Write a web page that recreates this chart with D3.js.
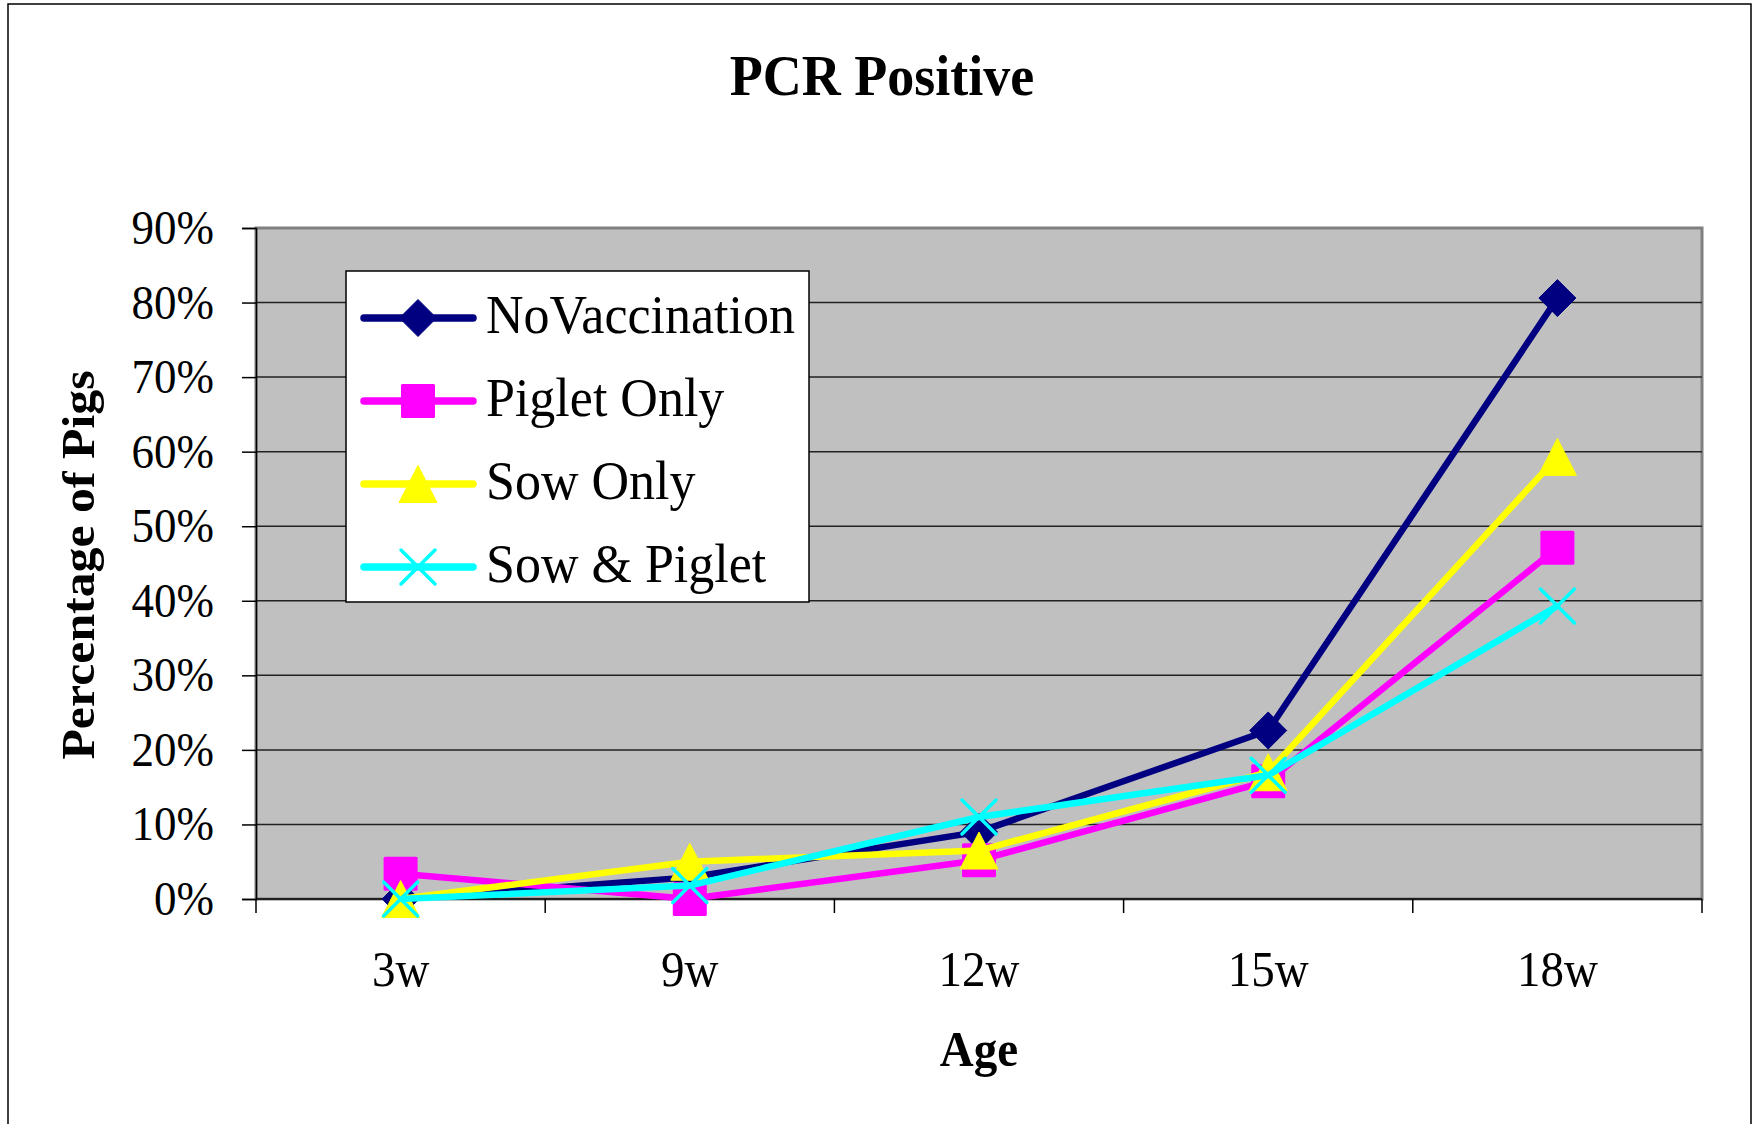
<!DOCTYPE html>
<html>
<head>
<meta charset="utf-8">
<script src="https://cdn.jsdelivr.net/npm/d3@7"></script>
<style>
	body { margin: 0; background: #fff; }
	svg { display: block; }
	text { font-family: "Liberation Serif", "Times New Roman", serif; fill: #000; }
</style>
</head>
<body>
<svg></svg>
<script>

// chart values
var ages = ['3w', '9w', '12w', '15w', '18w'];
var noVaccination = [0, 0.029, 0.090, 0.226, 0.806];
var pigletOnly = [0.034, 0, 0.052, 0.158, 0.471];
var sowOnly = [0, 0.050, 0.065, 0.170, 0.593];
var sowAndPiglet = [0, 0.018, 0.110, 0.166, 0.393];
var yTicks = [0, 0.1, 0.2, 0.3, 0.4, 0.5, 0.6, 0.7, 0.8, 0.9];

var series = [
	{name: 'NoVaccination', values: noVaccination, color: '#000080', marker: 'diamond'},
	{name: 'Piglet Only', values: pigletOnly, color: '#FF00FF', marker: 'square'},
	{name: 'Sow Only', values: sowOnly, color: '#FFFF00', marker: 'triangle'},
	{name: 'Sow & Piglet', values: sowAndPiglet, color: '#00FFFF', marker: 'x'}
];

// some layout settings
var CONF = {
	width: 1757,
	height: 1124,
	left: 256,
	right: 1702,
	top: 228,
	bottom: 899,
	stretch: 1.06
};

// draw one marker at the origin of a group
function drawMarker(g, kind, color) {
	if(kind == 'diamond') {
		g.append('path').attr('d', 'M0,-18.5L18.5,0L0,18.5L-18.5,0Z')
			.style('fill', color).style('stroke', color).style('stroke-width', 1);
	} else if(kind == 'square') {
		g.append('rect').attr('x', -17).attr('y', -17)
			.attr('width', 34).attr('height', 34).attr('rx', 1.5)
			.style('fill', color);
	} else if(kind == 'triangle') {
		g.append('path').attr('d', 'M0,-18.5L19,18.5L-19,18.5Z')
			.style('fill', color).style('stroke', color).style('stroke-width', 1)
			.style('stroke-linejoin', 'round');
	} else {
		g.append('path').attr('d', 'M-17,-17L17,17M17,-17L-17,17')
			.style('stroke', color).style('stroke-width', 3.5)
			.style('stroke-linecap', 'round');
	}
}

// text with the slight vertical stretch of the original
function label(parent, x, y, str, size, opts) {
	opts = opts || {};
	var tr = 'translate(' + x + ',' + y + ') scale(1,' + CONF.stretch + ')';
	if(opts.rotate) { tr += ' rotate(' + opts.rotate + ')'; }
	return parent.append('text')
		.attr('transform', tr)
		.attr('text-anchor', opts.anchor || 'middle')
		.style('font-size', size + 'px')
		.style('font-weight', opts.bold ? 'bold' : 'normal')
		.text(str);
}

function drawChart() {
	var svg = d3.select('svg')
		.attr('width', CONF.width)
		.attr('height', CONF.height);

	// chart area border
	svg.append('rect')
		.attr('x', 8).attr('y', 4)
		.attr('width', 1743).attr('height', 1140)
		.style('fill', '#fff')
		.style('stroke', '#000')
		.style('stroke-width', 1.5);

	var x = d3.scaleBand().domain(ages).range([CONF.left, CONF.right]);
	var y = d3.scaleLinear().domain([0, 0.9]).range([CONF.bottom, CONF.top]);

	// plot area
	svg.append('rect')
		.attr('x', CONF.left).attr('y', CONF.top)
		.attr('width', CONF.right - CONF.left)
		.attr('height', CONF.bottom - CONF.top)
		.style('fill', '#C0C0C0')
		.style('stroke', '#808080')
		.style('stroke-width', 3);

	// gridlines
	svg.append('g').selectAll('line')
		.data(yTicks.filter(function(d) { return d > 0 && d < 0.9; }))
		.enter()
		.append('line')
			.attr('x1', CONF.left).attr('x2', CONF.right)
			.attr('y1', function(d) { return y(d); })
			.attr('y2', function(d) { return y(d); })
			.style('stroke', '#222')
			.style('stroke-width', 1.5);

	// y axis
	var yAxis = svg.append('g')
		.attr('transform', 'translate(' + CONF.left + ',0)')
		.call(d3.axisLeft(y).tickValues(yTicks).tickSize(14).tickFormat(''));
	yAxis.select('.domain').style('stroke', '#000').style('stroke-width', 1.5);
	yAxis.selectAll('.tick line').style('stroke', '#000').style('stroke-width', 1.5);

	yTicks.forEach(function(d) {
		label(svg, 214, y(d) + 16, d3.format('.0%')(d), 45, {anchor: 'end'});
	});

	// x axis, ticks sit between the categories
	var xEdges = ages.map(function(d) { return x(d); }).concat([CONF.right]);
	var xAxis = svg.append('g')
		.attr('transform', 'translate(0,' + CONF.bottom + ')');
	xAxis.append('line')
		.attr('x1', CONF.left).attr('x2', CONF.right)
		.style('stroke', '#000').style('stroke-width', 1.5);
	xAxis.selectAll('line.tick')
		.data(xEdges)
		.enter()
		.append('line')
			.attr('class', 'tick')
			.attr('x1', function(d) { return d; })
			.attr('x2', function(d) { return d; })
			.attr('y1', 0).attr('y2', 14)
			.style('stroke', '#000').style('stroke-width', 1.5);

	ages.forEach(function(d) {
		label(svg, x(d) + x.bandwidth() / 2, 986, d, 47);
	});

	// titles
	label(svg, 882, 95, 'PCR Positive', 54, {bold: true});
	label(svg, 979, 1066, 'Age', 47, {bold: true});
	label(svg, 94, 565, 'Percentage of Pigs', 47, {bold: true, rotate: -90});

	// the series: line then markers, one after another
	var line = d3.line()
		.x(function(d, i) { return x(ages[i]) + x.bandwidth() / 2; })
		.y(function(d) { return y(d); });

	series.forEach(function(s) {
		var g = svg.append('g').attr('class', 'series');
		g.append('path')
			.attr('d', line(s.values))
			.style('fill', 'none')
			.style('stroke', s.color)
			.style('stroke-width', 6.5)
			.style('stroke-linejoin', 'round');

		g.selectAll('g.marker')
			.data(s.values)
			.enter()
			.append('g')
				.attr('class', 'marker')
				.attr('transform', function(d, i) {
					return 'translate(' + (x(ages[i]) + x.bandwidth() / 2) + ',' + y(d) + ')';
				})
				.each(function() { drawMarker(d3.select(this), s.marker, s.color); });
	});

	// legend
	var legend = svg.append('g');
	legend.append('rect')
		.attr('x', 346).attr('y', 271)
		.attr('width', 463).attr('height', 331)
		.style('fill', '#fff')
		.style('stroke', '#000')
		.style('stroke-width', 1.5);

	var rows = legend.selectAll('g.row')
		.data(series)
		.enter()
		.append('g')
			.attr('class', 'row')
			.attr('transform', function(d, i) { return 'translate(0,' + (318 + i * 83) + ')'; });

	rows.append('line')
		.attr('x1', 364).attr('x2', 473)
		.style('stroke', function(d) { return d.color; })
		.style('stroke-width', 7.5)
		.style('stroke-linecap', 'round');

	rows.append('g')
		.attr('transform', 'translate(418,0)')
		.each(function(d) { drawMarker(d3.select(this), d.marker, d.color); });

	rows.each(function(d) {
		label(d3.select(this), 486, 15, d.name, 52, {anchor: 'start'});
	});
}

drawChart();

</script>
</body>
</html>
